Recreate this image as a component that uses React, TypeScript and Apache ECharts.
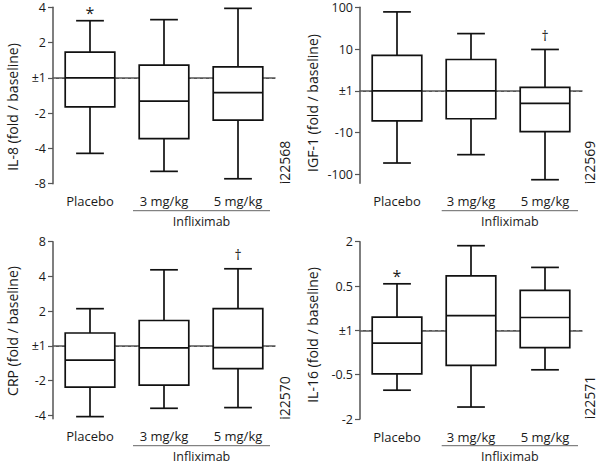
import React, { useEffect, useRef } from "react";
import * as echarts from "echarts";

const groups = ["Placebo", "3 mg/kg", "5 mg/kg"];

// Box statistics in axis (log) units: [min, Q1, median, Q3, max]
const il8Placebo = [-2.14, -0.82, 0, 0.73, 1.62];
const il8Dose3 = [-2.65, -1.72, -0.66, 0.36, 1.65];
const il8Dose5 = [-2.86, -1.2, -0.42, 0.31, 1.97];

const igfPlacebo = [-1.73, -0.72, 0, 0.85, 1.89];
const igfDose3 = [-1.53, -0.67, 0, 0.75, 1.37];
const igfDose5 = [-2.13, -0.98, -0.3, 0.08, 0.99];

const crpPlacebo = [-2.04, -1.19, -0.41, 0.37, 1.07];
const crpDose3 = [-1.8, -1.13, -0.06, 0.73, 2.19];
const crpDose5 = [-1.78, -0.66, -0.05, 1.07, 2.22];

const il16Placebo = [-1.35, -0.98, -0.29, 0.3, 1.05];
const il16Dose3 = [-1.73, -0.79, 0.33, 1.23, 1.91];
const il16Dose5 = [-0.89, -0.39, 0.29, 0.9, 1.42];

// Tick positions and their labels
const il8Ticks = [-3, -2, -1, 0, 1, 2];
const il8Labels = ["-8", "-4", "-2", "±1", "2", "4"];
const igfTicks = [-2, -1, 0, 1, 2];
const igfLabels = ["-100", "-10", "±1", "10", "100"];
const crpTicks = [-2, -1, 0, 1, 2, 3];
const crpLabels = ["-4", "-2", "±1", "2", "4", "8"];
const il16Ticks = [-2, -1, 0, 1, 2];
const il16Labels = ["-2", "-0.5", "±1", "0.5", "2"];

const titles = ["IL-8 (fold / baseline)", "IGF-1 (fold / baseline)", "CRP (fold / baseline)", "IL-16 (fold / baseline)"];
const figIds = ["i22568", "i22569", "i22570", "i22571"];
const groupLabel = "Infliximab";

// significance markers: [group index, symbol]
const il8Marks = [[0, "*"]];
const igfMarks = [[2, "†"]];
const crpMarks = [[2, "†"]];
const il16Marks = [[0, "*"]];

const FONT = "'Open Sans', 'Noto Sans', sans-serif";
const INK = "#1a1a1a";

const panels = [
  { boxes: [il8Placebo, il8Dose3, il8Dose5], ticks: il8Ticks, labels: il8Labels, min: -3, max: 2, marks: il8Marks,
    grid: { left: 53, top: 7.3, width: 222, height: 176.4 } },
  { boxes: [igfPlacebo, igfDose3, igfDose5], ticks: igfTicks, labels: igfLabels, min: -2.216, max: 2, marks: igfMarks,
    grid: { left: 360, top: 7.3, width: 222, height: 176 } },
  { boxes: [crpPlacebo, crpDose3, crpDose5], ticks: crpTicks, labels: crpLabels, min: -2.1, max: 3, marks: crpMarks,
    grid: { left: 53, top: 241.7, width: 222, height: 177 } },
  { boxes: [il16Placebo, il16Dose3, il16Dose5], ticks: il16Ticks, labels: il16Labels, min: -2, max: 2, marks: il16Marks,
    grid: { left: 360, top: 241.7, width: 222, height: 177.3 } },
];

const titlePos = [
  { x: 12, y: 107 },
  { x: 312, y: 103 },
  { x: 12, y: 331 },
  { x: 312, y: 335 },
];
const idPos = [
  { x: 284.5, y: 162.5 },
  { x: 589, y: 162.5 },
  { x: 284.5, y: 398 },
  { x: 589, y: 397.5 },
];
const bracketPos = [
  { x1: 133, x2: 270, y: 210.7, ty: 221.5 },
  { x1: 441.7, x2: 578, y: 210.7, ty: 221.5 },
  { x1: 133, x2: 270, y: 445.7, ty: 456.5 },
  { x1: 441.7, x2: 578, y: 445.7, ty: 456.5 },
];

function renderBox(params: any, api: any) {
  const c = api.value(0);
  const pMin = api.coord([c, api.value(1)]);
  const pQ1 = api.coord([c, api.value(2)]);
  const pMed = api.coord([c, api.value(3)]);
  const pQ3 = api.coord([c, api.value(4)]);
  const pMax = api.coord([c, api.value(5)]);
  const bw = api.size([1, 0])[0] * 0.67;
  const cw = bw * 0.56;
  const cx = pMed[0];
  const st = { stroke: "#111", lineWidth: 1.7, fill: null };
  return {
    type: "group",
    children: [
      { type: "line", shape: { x1: cx, y1: pQ3[1], x2: cx, y2: pMax[1] }, style: st },
      { type: "line", shape: { x1: cx - cw / 2, y1: pMax[1], x2: cx + cw / 2, y2: pMax[1] }, style: st },
      { type: "line", shape: { x1: cx, y1: pQ1[1], x2: cx, y2: pMin[1] }, style: st },
      { type: "line", shape: { x1: cx - cw / 2, y1: pMin[1], x2: cx + cw / 2, y2: pMin[1] }, style: st },
      { type: "rect", shape: { x: cx - bw / 2, y: pQ3[1], width: bw, height: pQ1[1] - pQ3[1] },
        style: { stroke: "#111", lineWidth: 1.7, fill: "#fff" } },
      { type: "line", shape: { x1: cx - bw / 2, y1: pMed[1], x2: cx + bw / 2, y2: pMed[1] }, style: st },
    ],
  };
}

// dashed "no change" reference line across the whole plot area
function renderBaseline(params: any, api: any) {
  const cs = params.coordSys;
  const y = Math.round(api.coord([0, api.value(1)])[1]) + 0.5;
  const children: any[] = [];
  for (let x = cs.x + 3; x < cs.x + cs.width; x += 6) {
    children.push({
      type: "line",
      shape: { x1: x, y1: y, x2: Math.min(x + 3, cs.x + cs.width), y2: y },
      style: { stroke: "#555", lineWidth: 1 },
    });
  }
  return { type: "group", children };
}

export default function App() {
  const ref = useRef<HTMLDivElement>(null);
  useEffect(() => {
    if (!ref.current) return;
    const chart = echarts.init(ref.current, undefined, { renderer: "svg" });

    const grid = panels.map((p) => p.grid);
    const xAxis = panels.map((p, i) => ({
      type: "category",
      gridIndex: i,
      data: groups,
      boundaryGap: true,
      axisLine: { lineStyle: { color: "#555", width: 1.5 } },
      axisTick: { show: true, alignWithLabel: true, length: 4, lineStyle: { color: "#555", width: 1.2 } },
      axisLabel: { color: INK, fontSize: 13, fontFamily: FONT, margin: 11 },
      splitLine: { show: false },
    }));
    const yAxis = panels.map((p, i) => ({
      type: "value",
      gridIndex: i,
      min: p.min,
      max: p.max,
      axisLine: { show: true, lineStyle: { color: "#555", width: 1.5 } },
      axisTick: { show: true, length: 5, customValues: p.ticks, lineStyle: { color: "#555", width: 1.2 } },
      axisLabel: {
        customValues: p.ticks,
        color: INK,
        fontSize: 12.5,
        fontFamily: FONT,
        margin: 7,
        formatter: (v: number) => {
          const k = p.ticks.findIndex((t) => Math.abs(t - v) < 1e-6);
          return k >= 0 ? p.labels[k] : "";
        },
      },
      splitLine: { show: false },
    }));

    const series: any[] = [];
    panels.forEach((p, i) => {
      series.push({
        type: "custom",
        xAxisIndex: i,
        yAxisIndex: i,
        renderItem: renderBaseline,
        data: [[0, 0]],
        silent: true,
        z: 1,
      });
      series.push({
        type: "custom",
        xAxisIndex: i,
        yAxisIndex: i,
        renderItem: renderBox,
        encode: { x: 0, y: [1, 2, 3, 4, 5] },
        data: p.boxes.map((b, k) => [k, ...b]),
        z: 3,
      });
      const marks = p.marks;
      series.push({
        type: "custom",
        xAxisIndex: i,
        yAxisIndex: i,
        silent: true,
        data: marks.map(([k]) => [k as number, p.boxes[k as number][4]]),
        renderItem: (params: any, api: any) => {
          const pt = api.coord([api.value(0), api.value(1)]);
          const s = marks[params.dataIndex][1] as string;
          const isStar = s === "*";
          return {
            type: "text",
            x: pt[0],
            y: pt[1] - (isStar ? 0 : 7),
            style: {
              text: s,
              fill: INK,
              font: `${isStar ? 16 : 14}px ${FONT}`,
              textAlign: "center",
              textVerticalAlign: "bottom",
            },
          };
        },
        z: 4,
      });
    });

    const graphic: any[] = [];
    panels.forEach((p, i) => {
      graphic.push({
        type: "text",
        x: titlePos[i].x,
        y: titlePos[i].y,
        rotation: Math.PI / 2,
        style: { text: titles[i], fill: INK, font: `14px ${FONT}`, textAlign: "center", textVerticalAlign: "middle" },
      });
      graphic.push({
        type: "text",
        x: idPos[i].x,
        y: idPos[i].y,
        rotation: Math.PI / 2,
        style: { text: figIds[i], fill: INK, font: `14px ${FONT}`, textAlign: "center", textVerticalAlign: "middle" },
      });
      const b = bracketPos[i];
      graphic.push({
        type: "line",
        shape: { x1: b.x1, y1: b.y, x2: b.x2, y2: b.y },
        style: { stroke: "#666", lineWidth: 1 },
      });
      graphic.push({
        type: "text",
        x: (b.x1 + b.x2) / 2,
        y: b.ty,
        style: { text: groupLabel, fill: INK, font: `12.5px ${FONT}`, textAlign: "center", textVerticalAlign: "middle" },
      });
    });

    chart.setOption({
      animation: false,
      backgroundColor: "#fff",
      grid,
      xAxis,
      yAxis,
      series,
      graphic,
    });
    return () => chart.dispose();
  }, []);
  return <div ref={ref} style={{ position: "fixed", left: 0, top: 0, width: 600, height: 465 }} />;
}
